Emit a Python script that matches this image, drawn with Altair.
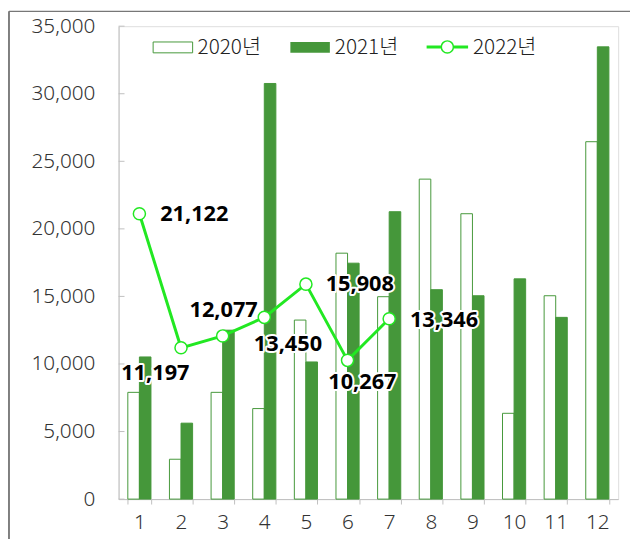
import altair as alt
import pandas as pd

months = list(range(1, 13))
v2020 = [7900, 2950, 7900, 6700, 13250, 18200, 14980, 23680, 21120, 6350, 15050, 26450]
v2021 = [10520, 5620, 12500, 30760, 10150, 17460, 21270, 15500, 15050, 16300, 13450, 33470]
months2022 = [1, 2, 3, 4, 5, 6, 7]
v2022 = [21122, 11197, 12077, 13450, 15908, 10267, 13346]
y_ticks = [0, 5000, 10000, 15000, 20000, 25000, 30000, 35000]
legend_labels = ["2020년", "2021년", "2022년"]

GREEN = "#45973A"
LIME = "#22E822"
FONT = "Noto Sans"
KFONT = "Noto Sans CJK KR"

bars_df = pd.DataFrame({
    "month": months * 2,
    "year": ["2020"] * 12 + ["2021"] * 12,
    "value": v2020 + v2021,
})
line_df = pd.DataFrame({"month": months2022, "value": v2022})
line_df["label"] = [f"{v:,}" for v in v2022]
ticks_df = pd.DataFrame({"value": y_ticks})
one = pd.DataFrame({"a": [0]})

xscale = alt.Scale(domain=months, paddingInner=0.444, paddingOuter=0.222)
yscale = alt.Scale(domain=[0, 35000], nice=False)

xaxis = alt.Axis(labelAngle=0, tickBand="extent", domainColor="#BFBFBF",
                 tickColor="#BFBFBF", tickSize=5, labelFontSize=21, labelFontWeight=300,
                 labelFont=FONT, labelColor="#333333", labelPadding=8,
                 grid=False)
yaxis = alt.Axis(values=y_ticks, format=",.0f", labelFontSize=21, labelFont=FONT,
                 labelFontWeight=300, labelColor="#333333", tickSize=0, labelPadding=24,
                 domainColor="#BFBFBF", grid=False)

def X():
    return alt.X("month:O", scale=xscale, title=None, axis=xaxis)

def Y():
    return alt.Y("value:Q", scale=yscale, title=None, axis=yaxis)

bars = alt.Chart(bars_df).mark_bar(stroke=GREEN, strokeWidth=1).encode(
    x=X(),
    xOffset=alt.XOffset("year:N", scale=alt.Scale(paddingInner=0, paddingOuter=0)),
    y=Y(),
    fill=alt.Fill("year:N", scale=alt.Scale(domain=["2020", "2021"], range=["white", GREEN]),
                  legend=None),
)

ticks = alt.Chart(ticks_df).mark_rule(color="#BFBFBF", strokeWidth=1).encode(
    x=alt.value(0), x2=alt.value(6), y=Y(),
)

line = alt.Chart(line_df).mark_line(color=LIME, strokeWidth=3).encode(x=X(), y=Y())
points = alt.Chart(line_df).mark_point(shape="circle", filled=True, fill="white", stroke=LIME,
                                       strokeWidth=1.5, size=150, opacity=1).encode(x=X(), y=Y())

# label placement per month (align, dx, dy)
label_style = {
    1: ("left", 21, 0),
    2: ("center", -26, 26),
    3: ("center", 1, -26),
    4: ("center", 24, 27),
    5: ("left", 20, 0),
    6: ("center", 15, 22),
    7: ("left", 21, 1),
}
label_layers = []
for m, (al, dx, dy) in label_style.items():
    base = alt.Chart(line_df).transform_filter(alt.datum.month == m).encode(
        x=X(), y=Y(), text="label:N"
    )
    halo = base.mark_text(align=al, dx=dx, dy=dy, baseline="middle", font=FONT,
                          fontSize=22, fontWeight="bold", fill="white", stroke="white",
                          strokeWidth=4, strokeJoin="round")
    txt = base.mark_text(align=al, dx=dx, dy=dy, baseline="middle", font=FONT,
                         fontSize=22, fontWeight="bold", color="black")
    label_layers += [halo, txt]

# manual legend
leg = []
leg.append(alt.Chart(one).mark_rect(fill="white", stroke=GREEN, strokeWidth=1).encode(
    x=alt.value(35), x2=alt.value(75), y=alt.value(16), y2=alt.value(27)))
leg.append(alt.Chart(one).mark_rect(fill=GREEN).encode(
    x=alt.value(174), x2=alt.value(214), y=alt.value(16), y2=alt.value(27)))
leg.append(alt.Chart(one).mark_rule(color=LIME, strokeWidth=3).encode(
    x=alt.value(312), x2=alt.value(354), y=alt.value(21)))
leg.append(alt.Chart(one).mark_point(shape="circle", filled=True, fill="white", stroke=LIME,
                                     strokeWidth=1.5, size=150, opacity=1).encode(
    x=alt.value(333), y=alt.value(21)))
for lx, lab in zip([80, 219, 359], legend_labels):
    leg.append(alt.Chart(one).mark_text(align="left", baseline="middle", font=KFONT,
                                        fontSize=21, fontWeight=300, color="#222222").encode(
        x=alt.value(lx), y=alt.value(22), text=alt.value(lab)))

# outer frame
frame = [
    alt.Chart(one).mark_rule(color="#555555", strokeWidth=1.5).encode(
        x=alt.value(-111), y=alt.value(-15), y2=alt.value(520)),
    alt.Chart(one).mark_rule(color="#777777", strokeWidth=1.5).encode(
        x=alt.value(-111), x2=alt.value(520), y=alt.value(-15)),
]

chart = alt.layer(bars, ticks, line, points, *label_layers, *leg, *frame).properties(
    width=506, height=479,
    autosize=alt.AutoSizeParams(type="none"),
    padding={"left": 112, "top": 15, "right": 12, "bottom": 37},
).configure_view(stroke=None).configure(background="white")

chart.save("out.html", embed_options={"renderer": "svg", "actions": False})
